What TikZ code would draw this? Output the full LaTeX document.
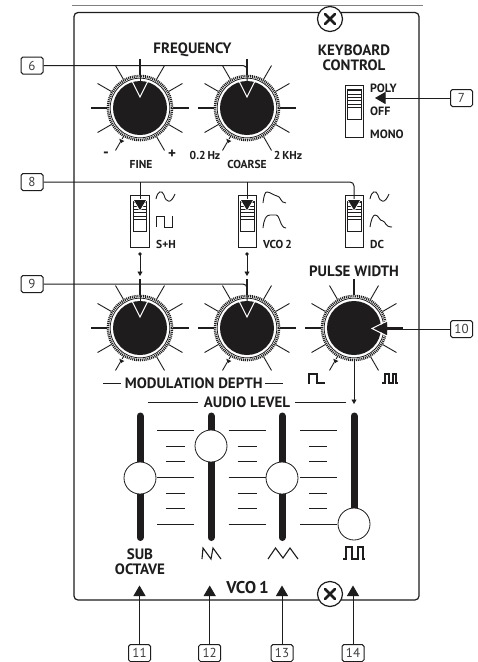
\documentclass[tikz,border=0pt]{standalone}
\usepackage{fontspec}
\setmainfont{PT Sans}
\usetikzlibrary{arrows.meta}
\definecolor{ink}{HTML}{1E1C1C}
\tikzset{
  x=1pt,y=-1pt,
  every path/.style={color=ink},
  panel/.style={draw=ink,line width=1.2pt,rounded corners=4pt},
  callout/.style={draw=ink,line width=1pt,fill=white,rounded corners=1.8pt,minimum width=22pt,minimum height=17pt,inner sep=0pt,font=\fontsize{13}{13}\selectfont,text=ink!85},
  wire/.style={draw=ink,line width=1pt,rounded corners=4pt},
  headed/.style={wire,-{Triangle[length=10.5pt,width=12pt]}},
  smallhead/.style={draw=ink,line width=0.9pt,-{Triangle[length=4.5pt,width=5pt]}},
  lab/.style={inner sep=0pt,text=ink,font=\fontsize{#1}{#1}\selectfont\bfseries},
  lab/.default=12,
  tick/.style={draw=ink,line width=0.9pt},
  heavytick/.style={draw=ink,line width=1.5pt},
  wave/.style={draw=ink,line width=0.9pt},
  bar/.style={draw=ink,line width=7pt,line cap=round},
  grip/.style={circle,draw=ink,line width=0.8pt,fill=white,minimum size=32pt,inner sep=0pt},
  scaleline/.style={draw=ink,line width=0.9pt},
  frame/.style={draw=ink,line width=0.8pt,fill=white},
  screw/.style={circle,draw=ink,line width=1.2pt,fill=white,minimum size=25pt,inner sep=0pt},
}
\newcommand{\knobat}[3]{% x y name
  \foreach \a in {30,60,120,150,210,240,300,330}
    \draw[tick] (#1,#2) ++(\a:30pt) -- ++(\a:19pt);
  \foreach \a in {0,90,180}
    \draw[heavytick] (#1,#2) ++(\a:30pt) -- ++(\a:19pt);
  \node[circle,fill=white,minimum size=66pt,inner sep=0pt] at (#1,#2) {};
  \draw[ink,line width=2.6pt,dash pattern=on 1pt off 0.9pt] (#1,#2) circle[radius=32];
  \draw[ink,line width=0.8pt] (#1,#2) circle[radius=29.8];
  \node[circle,fill=ink,minimum size=54pt,inner sep=0pt] (#3) at (#1,#2) {};
  \fill[white] (#1-21.5,#2+29.5) -- (#1-14.5,#2+32.5) -- (#1-19,#2+36.5) -- cycle;
  \fill[ink] (#1-20.7,#2+30.7) -- (#1-15.7,#2+33) -- (#1-19.3,#2+35.3) -- cycle;
}
\newcommand{\pointerdown}[2]{%
  \fill[ink] (#1-6.5,#2-14) -- (#1+6.5,#2-14) -- (#1,#2) -- cycle;
  \draw[white,line width=1pt] (#1-7.5,#2-15) -- (#1,#2) -- (#1+7.5,#2-15);
}
\newcommand{\toggle}[6]{% x-left x-right top bottom hTop hSplit
  \draw[frame] (#1,#3) rectangle (#2,#4);
  \fill[white] (#1+2.5,#5) rectangle (#2-2.5,#6+10);
  \draw[ink,line width=0.7pt] (#1+2.5,#5) rectangle (#2-2.5,#6+10);
  \foreach \k in {0,...,5}
    \draw[ink,line width=1pt] (#1+2.5,{#5+(#6-#5)*(\k+0.5)/6}) -- (#2-2.5,{#5+(#6-#5)*(\k+0.5)/6});
}
\begin{document}
\begin{tikzpicture}
\useasboundingbox (0,0) rectangle (478,662);
\fill[white] (0,0) rectangle (478,662);
% top rule and panel
\coordinate (ruleL) at (72,5.5); \coordinate (ruleR) at (423,5.5);
\draw[black!50,line width=0.9pt] (ruleL) -- (ruleR);
\draw[panel] (74,12.5) rectangle (419,600);

% titles
\node[lab=15] (tfreq) at (192.5,50) {FREQUENCY};
\node[lab=15,align=center] (tkbd1) at (354,50) {KEYBOARD};
\node[lab=15,align=center] (tkbd2) at (354,65) {CONTROL};
\node[lab=12,anchor=west] (tpoly) at (370,88) {POLY};
\node[lab=12,anchor=west] (toff) at (370,111) {OFF};
\node[lab=12,anchor=west] (tmono) at (370,134) {MONO};
\node[lab=16] (tminus) at (106,155) {-};
\node[lab=15] (tplus) at (172,154) {+};
\node[lab=11.5] (tfine) at (141,164) {FINE};
\node[lab=11.5] (tcoarse) at (247,164) {COARSE};
\node[lab=11.5] (t02) at (205,155) {0.2\,Hz};
\node[lab=11.5] (t2k) at (288,155) {2\,KHz};
\node[lab=11.5,anchor=west] (tsh) at (156,244) {S+H};
\node[lab=11.5,anchor=west] (tvco2) at (263,244) {VCO\,2};
\node[lab=11.5,anchor=west] (tdc) at (370,244) {DC};
\node[lab=15] (tpw) at (354,271) {PULSE WIDTH};
\node[lab=15] (tmod) at (193.7,383) {MODULATION DEPTH};
\node[lab=15] (taud) at (247,402) {AUDIO LEVEL};
\node[lab=15] (tsub) at (140,554) {SUB};
\node[lab=15] (toct) at (140,569) {OCTAVE};
\node[lab=17] (tvco) at (247.5,588) {VCO\,1};
\draw[wave] (103,383) -- (121,383);
\draw[wave] (265,383) -- (283,383);
\draw[wave] (148,402) -- (198,402);
\draw[wave] (295,402) -- (346,402);

% knobs
\knobat{140}{108}{kFine}
\knobat{247}{108}{kCoarse}
\knobat{140}{328}{kModA}
\knobat{247}{328}{kModB}
\knobat{354}{328}{kPW}

% switches
\toggle{345}{363.5}{85}{137}{89}{109}
\toggle{130.5}{149}{195}{247}{201}{221}
\toggle{238}{256.5}{195}{247}{201}{221}
\toggle{345}{363.5}{195}{247}{201}{221}

% waveforms
\draw[wave] (156,199) .. controls (157.5,191) and (162,189.5) .. (164,195) .. controls (166,203) and (171,204) .. (175,194);
\draw[wave] (156,227) -- (156,216) -- (164,216) -- (164,227) -- (172,227) -- (172,216);
\draw[wave] (263,203) .. controls (264,195) and (265,192) .. (267,192) .. controls (270,192) and (273,195) .. (277,196) .. controls (281,196) and (280,203) .. (286,203);
\draw[wave] (263,228) .. controls (264,219) and (266,215) .. (270,215) -- (276,215) .. controls (280,215) and (280,228) .. (286,228);
\draw[wave] (370,199) .. controls (371.5,191) and (376,189.5) .. (378,195) .. controls (380,203) and (385,204) .. (389,194);
\draw[wave] (370,227) .. controls (371,220) and (373,215) .. (375,215) .. controls (379,215) and (379,221) .. (383,221) .. controls (386,222) and (385,227) .. (392,227);
\draw[wave,line width=1.1pt] (308,383) -- (309,383) -- (309,374) -- (317,374) -- (317,383) -- (325,383);
\draw[wave,line width=1.1pt] (382,383) -- (385,383) -- (385,374) -- (389,374) -- (389,383) -- (393,383) -- (393,374) -- (396,374) -- (396,383) -- (398,383);
\draw[wave,line width=1.1pt] (202,559) -- (203,548) -- (211,559) -- (213,548) -- (221,559);
\draw[wave,line width=1.1pt] (268,559) -- (275.5,548) -- (283,558) -- (290,548) -- (298,559);
\draw[wave,line width=1.1pt] (343,559) -- (346,559) -- (346,547) -- (352,547) -- (352,559) -- (358,559) -- (358,547) -- (363,547) -- (363,559) -- (365,559);

% faders
\foreach \xa/\xb/\xs/\xt in {157/194/166/185,228.7/265.7/237.7/256.7,300/337/309/327}{
  \foreach \y in {430,477,524} \draw[scaleline] (\xa,\y) -- (\xb,\y);
  \foreach \y in {446,461.5,493,508} \draw[scaleline] (\xs,\y) -- (\xt,\y);
}
\draw[bar] (140,416) -- (140,537.5);
\draw[bar] (211,416) -- (211,537.5);
\draw[bar] (282,416) -- (282,537.5);
\draw[bar] (354,416) -- (354,520);
\node[grip] (gA) at (140,478) {};
\node[grip] (gB) at (211,446) {};
\node[grip] (gC) at (282,478) {};
\node[grip] (gD) at (354,524) {};

% screws
\node[screw] (sTop) at (330,19) {};
\node[screw] (sBot) at (330,594) {};
\foreach \n in {sTop,sBot}{
  \draw[ink,line width=2.8pt,line cap=round] (\n.center) ++(-5,-5) -- ++(10,10);
  \draw[ink,line width=2.8pt,line cap=round] (\n.center) ++(-5,5) -- ++(10,-10);
}

% dotted links
\coordinate (dA1) at (140,254); \coordinate (dA2) at (140,276);
\coordinate (dB1) at (247,254); \coordinate (dB2) at (247,276);
\fill[ink] (dA1) circle[radius=1.9]; \fill[ink] (dB1) circle[radius=1.9];
\draw[smallhead] (dA1) -- (dA2);
\draw[smallhead] (dB1) -- (dB2);
\coordinate (pwIn) at (354,404);
\draw[smallhead] (kPW.south) ++(0,6) -- (pwIn);

% callouts
\node[callout] (c6) at (32,65.5) {6};
\node[callout] (c7) at (461.5,98) {7};
\node[callout] (c8) at (32,182) {8};
\node[callout] (c9) at (32,284) {9};
\node[callout] (c10) at (461.5,329) {10};
\node[callout] (c11) at (139.5,653) {11};
\node[callout] (c12) at (209.7,653) {12};
\node[callout] (c13) at (282,653) {13};
\node[callout] (c14) at (353,653) {14};

\coordinate (p6a) at (140,90); \coordinate (p6b) at (247,90);
\coordinate (p9a) at (140,310); \coordinate (p9b) at (247,310);
\draw[wire] (c6.east) -- (247,65.5) -- (p6b);
\draw[wire] (140,65.5) -- (p6a);
\draw[wire] (c9.east) -- (247,284) -- (p9b);
\draw[wire] (140,284) -- (p9a);
\pointerdown{140}{97}
\pointerdown{247}{97}
\pointerdown{140}{317}
\pointerdown{247}{317}

\coordinate (s8a) at (140,200); \coordinate (s8b) at (247,200); \coordinate (s8c) at (354,200);
\draw[wire] (c8.east) -- (354,182) -- (s8c);
\draw[wire] (140,182) -- (s8a);
\draw[wire] (247,182) -- (s8b);
\foreach \x in {140,247,354}{
  \fill[white] (\x-7.5,199) -- (\x+7.5,199) -- (\x,212) -- cycle;
  \fill[ink] (\x-6,200) -- (\x+6,200) -- (\x,210) -- cycle;
}

\coordinate (k7) at (375,98);
\draw[headed] (c7.west) -- (k7);
\coordinate (p10) at (383,329);
\draw[wire] (c10.west) -- (p10);
\fill[ink] (387,322) -- (387,335) -- (373,328.5) -- cycle;
\draw[white,line width=1pt] (388,320.5) -- (372,328.5) -- (388,336.5);

\coordinate (a11) at (139.5,585.5); \coordinate (a12) at (209.7,585.5);
\coordinate (a13) at (282,585.5); \coordinate (a14) at (353,585.5);
\draw[headed] (c11.north) -- (a11);
\draw[headed] (c12.north) -- (a12);
\draw[headed] (c13.north) -- (a13);
\draw[headed] (c14.north) -- (a14);
\end{tikzpicture}
\end{document}
